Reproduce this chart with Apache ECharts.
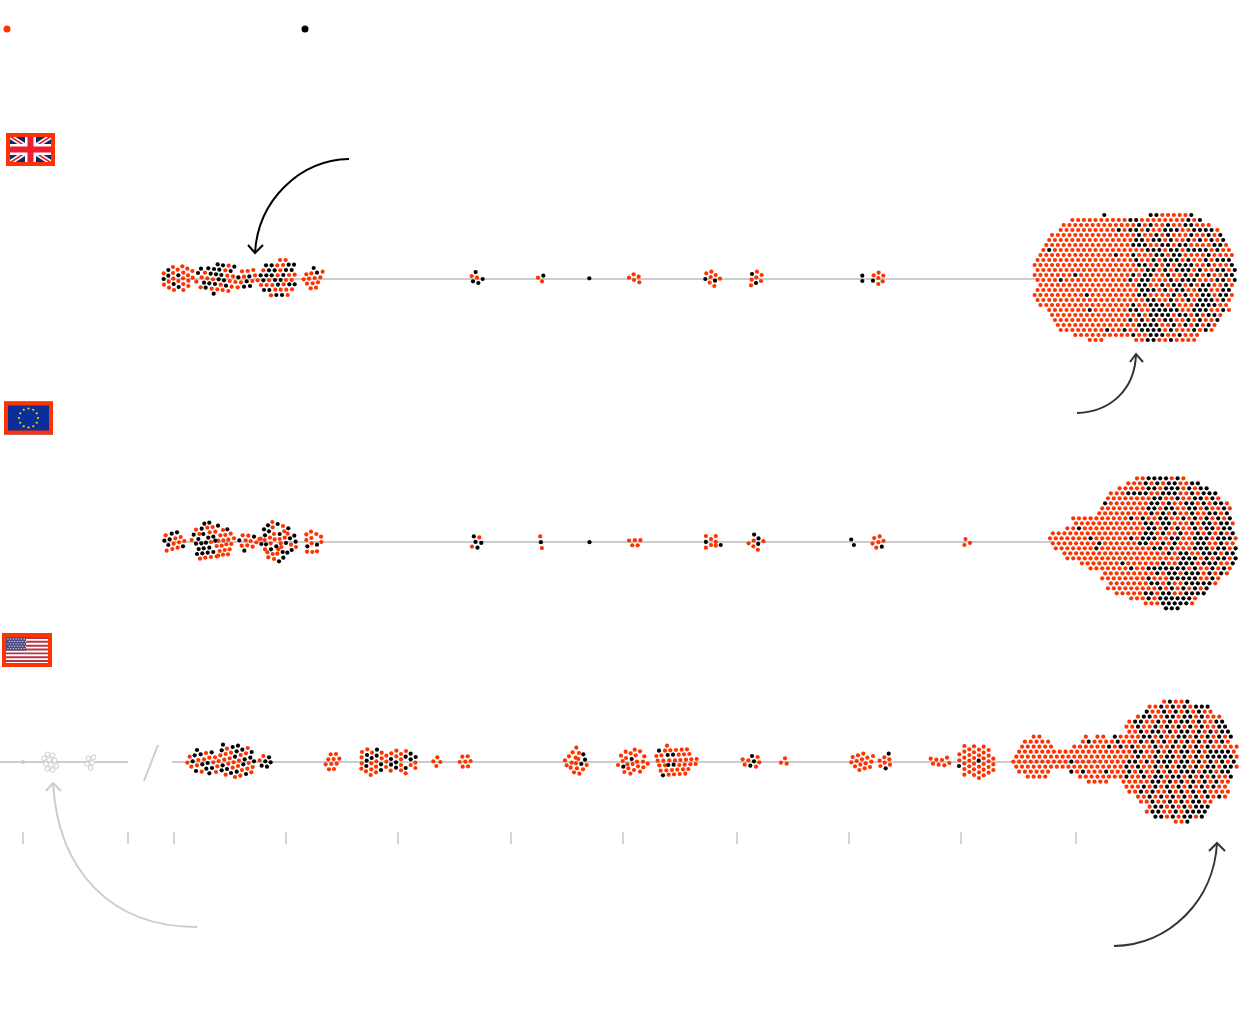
<!DOCTYPE html>
<html><head><meta charset="utf-8">
<style>html,body{margin:0;padding:0;background:#fff}#c{width:1240px;height:1032px}</style>
<script src="https://cdn.jsdelivr.net/npm/echarts@6/dist/echarts.min.js"></script>
</head><body><div id="c"></div>
<script>
// Values. at() places a list read in 3x crops of the reference.
const at=(ox,oy,l)=>l.map(p=>[ox+p[0]/3,oy+p[1]/3]);

// ---- United Kingdom, small clusters
const ukRedA=at(0,120,[[491,460],[519,441],[533,449],[547,439],[562,446],[519,459],[550,458],[577,453],[564,466],[520,476],[578,473],[549,475],[535,483],[506,485],[565,482],[492,494],[550,492],[565,498],[507,503],[522,510],[550,510],
[615,458],[686,437],[676,451],[605,472],[622,475],[639,478],[682,467],[699,469],[726,454],[743,453],[760,450],[732,470],[589,485],[689,483],[706,486],[723,487],[602,502],[662,494],[695,500],[713,502],[635,506],[652,508],[668,510],[685,513],[765,466],[757,483],
[840,420],[857,420],[832,436],[849,435],[790,451],[841,451],[833,466],[867,465],[884,464],[773,481],[807,481],[858,480],[875,480],[783,495],[800,495],[817,495],[851,493],[826,509],[842,509],[859,509],[876,508],[813,526],[863,525],
[934,460],[968,455],[919,463],[927,476],[911,478],[944,474],[961,472],[921,491],[938,490],[954,487],[932,505],[948,503]]);
const ukBlackA=at(0,120,[[505,450],[505,467],[491,477],[535,466],[521,492],[536,501],
[603,446],[625,445],[642,447],[653,433],[669,436],[658,449],[703,440],[594,459],[632,461],[648,463],[664,465],[692,453],[612,488],[656,478],[672,481],[715,472],[628,490],[645,492],[740,484],[617,503],[678,497],[732,500],[750,498],[748,469],[641,521],
[798,436],[815,436],[866,434],[882,434],[807,451],[824,451],[858,450],[875,450],[782,466],[799,466],[815,466],[850,465],[790,481],[842,480],[825,480],[884,493],[868,493],[834,494],[792,510],[808,510],[846,525],[829,525],
[941,444],[951,458]]);
const ukRedB=at(450,262,[[65,42],[81,47],[264,47],[276,58],[537,47],[551,37],[566,44],[552,54],[568,61],[769,34],[784,29],[797,39],[782,45],[810,50],[779,62],[793,72],[921,29],[935,39],[919,46],[905,53],[933,57],[903,70],[1271,40],[1286,32],[1285,48],[1300,41],[1298,58],[1285,66]]);
const ukBlackB=at(450,262,[[77,30],[98,51],[69,58],[85,63],[280,41],[418,49],[766,51],[795,56],[906,36],[918,63],[1237,41],[1237,57],[1269,56]]);
// run-length rows of the big UK swarm: r red, b black, . empty
const ukSwarm=["12.b7.2b5rb","6.10r2b8rbrb","5.13rbrb2rb2r2b3r","4.10rbr2brb2r3b2r4br","3.15rb2rbrb3rb2rbrb","2.15r2br2brb2rbrbrbrb","2.15r3b2r2br2b4r2br","1.rb16r3br2br4brb2r","1.13rb2rb3r2br2b4rb4r","17rb2rbr3brb2rbr3b","18r2brbrbr3b2rb3rb","19r2brbr3brb2r2brb","7rb9rbr2b2rb2rbrbrb2r2b","4rb11rbr2b3rbr3b3r2brb","1.17r2b2rbr2brbr2b2rbr","18r3brbr2b2r2b2r2b","9rb8r2b4rbrb2r2br2br","19r2b2rb2rbr3brbr","1.16rb2r3brb3r4b2r","2.7rb6r2b2r5b2r3b2rbr","3.15rbr4br2brbr2br","3.13rbrbrbr2b2rbrb2rb","4.14r4b2rbrbrbrbr","4.8rb2rb2r4brb3rbrbr","7.10rb2r3b2rb3r","9.3r5.2r2b2rb4r"];

// ---- European Union
const euRedA=at(150,510,[[47,76],[92,81],[76,85],[71,101],[87,97],[103,93],[83,113],[67,117],[50,122],
[138,59],[172,53],[188,51],[219,60],[148,72],[179,67],[196,65],[242,71],[211,76],[226,75],[252,85],[205,92],[220,91],[235,89],[125,90],[183,96],[200,108],[215,107],[229,103],[244,102],[209,123],[224,120],[239,118],[205,137],[219,134],[234,133],[150,146],[166,143],[183,141],[200,139],
[278,76],[295,77],[287,91],[302,93],[319,97],[332,86],[292,106],[308,110],[275,107],
[367,36],[399,48],[368,52],[413,71],[372,72],[403,64],[328,87],[360,83],[374,88],[389,87],[345,118],[362,100],[392,100],[423,104],[394,111],[438,111],[352,127],[368,132],[382,131],[385,118],[355,142],[372,147],[344,90],[404,83],
[469,73],[483,65],[499,72],[513,80],[484,84],[469,90],[485,100],[514,96],[487,126],[471,125],[501,124]]);
const euBlackA=at(150,510,[[65,71],[81,67],[43,92],[59,88],[55,105],[99,109],
[163,41],[178,38],[155,56],[204,47],[131,74],[160,72],[175,83],[190,80],[145,87],[138,101],[154,100],[168,98],[196,92],[146,117],[161,115],[178,113],[141,132],[157,130],[173,128],[190,126],[232,58],
[268,91],[312,80],[283,122],
[354,46],[342,58],[383,42],[357,64],[415,55],[389,72],[433,77],[345,76],[420,85],[348,103],[437,95],[408,99],[334,102],[379,109],[425,120],[412,128],[398,126],[400,143],[387,154],[363,118],
[472,109],[501,104]]);
const euRedB=[[479.3,537.4],[472,546.7],[540.2,536.4],[541.9,548.1],[629.1,540.5],[634.9,540.2],[640.4,540.2],[632.2,545.3],[637.7,545.3],[705.9,536],[711,539.1],[715.8,536],[715.8,541.9],[711,545],[715.8,545.7],[705.9,547.7],[753.7,540.5],[748.6,543.3],[763.4,541.2],[753.4,546.3],[757.9,549.8],[874.2,538.1],[879.7,536.4],[878.4,542.2],[883.5,540.8],[872.5,543.6],[876.3,547.7],[965.5,539.1],[970,542.9],[964.4,545]];
const euBlackB=[[473.8,536.4],[475.5,541.9],[481.3,542.9],[477.5,547.7],[540.9,542.2],[589.5,542.2],[705.9,541.9],[720.7,545],[754.1,534.6],[758.5,538.4],[758.2,543.9],[851.2,539.5],[853.9,545],[881.8,546.7]];
const euSwarm=["15.2r4brbr","13.3rbrbrbb2r2b","12.5r2br3brbr2b","10.3r4b2r3b2rbr3b","10.8r2b2rb2r2brbr","9.b7r2brb2r2brbr2br","9.8r2br2b2r2brb2rbr","8.9rbrbrb2rb2r2brb","4.10rbrb2r2b2rbrbrbrbrb","4.12r2br2b3rbr2br2br","3.2rb11r2brbrb2rbr2br2b","16r2brb2rb2rbrbrbrb","7rb6rbr3b2r2b2r3br3br","8rb6r2b2rbrb3r2b2rb2r","1.7rb9r2brb3r3br2brb","2.18rbr2b2r3br2b","3.20r3brbr2brb","5.7rb6rb2r3br3b2rb","7.7rb2r7brb2rbrbr","9.9rbr2br3brbrbr","9.8rb3r5b2rbr","10.7r2brb2r5br","10.9rbrbrbrbrb","11.5r2br2b2r4b","14.3rbr6br","16.3r5br","20.3b"];

// ---- United States
const usRedA=at(0,625,[[569,395],[618,384],[681,371],[743,369],[661,391],[677,387],[693,383],[722,390],[738,385],[628,398],[645,397],[612,403],[595,405],[673,404],[689,400],[790,393],[779,406],[656,408],[640,412],[717,407],[701,412],[685,416],[746,414],[562,413],[574,425],[591,421],[652,424],[714,423],[698,428],[758,426],[742,431],[726,435],[605,440],[648,441],[677,449],[705,456],[721,452],[754,442]]);
const usBlackA=at(0,625,[[591,375],[669,359],[698,366],[714,362],[665,376],[727,374],[710,379],[584,391],[602,388],[635,382],[755,381],[705,395],[751,398],[734,403],[578,409],[762,409],[807,397],[796,409],[812,412],[785,422],[801,425],[623,414],[607,418],[730,418],[668,421],[619,431],[636,429],[681,432],[665,436],[588,438],[628,445],[693,444],[710,440],[738,447]]);
const usRedB=at(300,730,[[92,73],[108,72],[118,86],[85,88],[101,87],[77,103],[94,102],[110,101],[87,118],[102,117],
[202,58],[186,66],[216,68],[245,68],[185,82],[245,85],[259,77],[274,70],[289,62],[303,72],[318,63],[303,88],[229,94],[214,100],[185,100],[259,95],[228,110],[214,118],[184,116],[198,124],[212,135],[228,127],[258,111],[272,122],[303,105],[303,121],[317,130],[332,105],[346,98],[346,114],[289,79],
[412,82],[400,94],[421,96],[409,108],[487,80],[503,79],[479,96],[496,95],[512,93],[488,110],[504,109],
[829,53],[818,67],[837,69],[807,79],[827,83],[795,91],[815,98],[835,87],[800,106],[828,100],[812,113],[831,115],[849,118],[822,127],[838,131],[860,105],
[1004,59],[977,65],[1020,64],[963,77],[992,70],[1007,76],[1033,79],[978,84],[1043,101],[954,105],[1029,95],[968,93],[1011,95],[982,103],[1014,109],[1030,112],[985,115],[1002,120],[1020,125],[973,126],[991,131],[998,102],
[1101,47],[1095,62],[1111,61],[1128,60],[1145,59],[1161,58],[1084,76],[1069,78],[1136,74],[1152,73],[1168,72],[1073,92],[1090,92],[1108,91],[1125,91],[1141,90],[1158,89],[1174,88],[1190,87],[1078,106],[1095,106],[1138,105],[1154,104],[1171,103],[1187,102],[1082,122],[1099,121],[1116,120],[1132,119],[1149,118],[1165,117],[1106,134],[1122,133],[1139,132],[1156,131]]);
const usBlackB=at(300,730,[[231,59],[201,75],[230,77],[215,84],[200,92],[199,108],[243,103],[243,120],[273,87],[273,104],[288,97],[288,113],[317,80],[332,71],[347,81],[332,88],[317,114],
[850,73],[855,89],[844,102],[995,87],[970,110],[1077,62],[1103,75],[1119,74],[1105,105],[1121,104],[1089,136]]);
const usRedC=at(700,730,[[128,88],[145,91],[173,81],[178,97],[134,104],[168,110],[255,85],[243,98],[260,101],
[490,71],[474,76],[458,81],[519,78],[502,83],[486,88],[470,93],[454,97],[514,95],[497,100],[481,104],[465,109],[510,111],[494,115],[478,120],
[553,82],[539,92],[568,88],[554,98],[570,104],[541,108],
[692,86],[709,89],[726,90],[741,83],[699,101],[716,104],[733,106],[748,99],
[778,73],[778,91],[793,48],[793,65],[793,83],[793,100],[793,117],[793,134],[808,58],[808,75],[808,92],[808,109],[808,126],[822,49],[822,67],[822,84],[822,101],[822,118],[822,135],[837,59],[837,76],[837,110],[837,127],[837,144],[851,50],[851,68],[851,85],[851,102],[851,119],[851,136],[866,60],[866,77],[866,94],[866,111],[866,128],[880,86],[880,103],[880,120]]);
const usBlackC=at(700,730,[[156,78],[162,94],[151,107],[566,71],[557,115],[777,108],[836,92]]);
const usSwarm=["26.rb2rb","23.2rbrbrbr3b","23.b2rbrbrbrb2r","21.r2b2r2br2brb3r","20.r2b2rbrbr2brb2r2b","19.2rb2rbrbrbrbrb2r2b","20.2rbr2brbr2brbrbr2b","3.2r7.r.2r.b4r2brb2r2brbrbrbrb","2.5r5.rb4rb3rbrbrbrbrbrbrbrbr","1.6r3.6rbrbrb3rb2rbrbrbrb5r","1.20r2b2rbrbr2brbr4br","21rb2rbr2brbrbr5br","10rb9r2brbr3br2brbrbrbrb","19rbrb2rbrbr2brbr2br2br","1.6r3.brb3rb3rbrb2rbrbr3br2br2b","2.4r5.8rb2rbr2br2brbrbrb2rb","13.4r2.5r2brbrbrbrbrb2r","19.3rbrbrbrbrbrbrbrr","20.2rbrb2rbrbrbrb4r","21.2rbrbrbrbrbrbrbr","22.2rb2rbrbr2b2r","23.r2brbrbr3b","23.r2b2rbr4b","24.2brbr2brb","28.2rb"];
const usFadedA=at(0,625,[[142,388],[158,391],[132,400],[148,404],[164,406],[138,417],[153,419],[169,423],[142,432],[158,435],[281,397],[265,400],[276,413],[261,417],[272,429]]);
const usFadedDot=[[23,762]];

// ---- axis furniture
const tickPositions=[23,128,174,286,398,511,623,737,849,961,1076];
const ukLine=[[165,279],[1040,279]];
const euLine=[[165,542],[1052,542]];
const usLineA=[[0,762],[128,762]];
const usLineB=[[172,762],[1100,762]];
const breakMark=[[158,745],[144,781]];
const legendRed=[[7,29]];
const legendBlack=[[305,29]];

// Expand a run-length swarm on its hexagonal rows (crop units, 3 per pixel)
function swarm(rows,ox,oy,x0,y0,out){
  rows.forEach((s,k)=>{
    const line=s.replace(/(\d+)([.rb])/g,(m,n,c)=>c.repeat(+n));
    [...line].forEach((c,i)=>{
      if(c==='.')return;
      out[c].push([ox+(x0+17.4*i+(k%2?8.7:0))/3, oy+(y0+15*k)/3]);
    });
  });
  return out;
}
const big={r:[],b:[]};
swarm(ukSwarm,1020,205,44,30,big);
swarm(euSwarm,1040,470,30,25,big);
swarm(usSwarm,1000,695,40,20,big);

const redDots=[].concat(ukRedA,ukRedB,euRedA,euRedB,usRedA,usRedB,usRedC,big.r);
const blackDots=[].concat(ukBlackA,ukBlackB,euBlackA,euBlackB,usBlackA,usBlackB,usBlackC,big.b);

const GRAY='#cccccc',RED='#ff3300',DARK='#333333',DOT=4.2;
const rule=(d)=>({type:'line',data:d,symbol:'none',silent:true,z:1,lineStyle:{color:GRAY,width:2,opacity:1},animation:false});

// Annotation arrows and flags
function arrow(p,col,w){
  return [{type:'bezierCurve',shape:{x1:p[0],y1:p[1],cpx1:p[2],cpy1:p[3],cpx2:p[4],cpy2:p[5],x2:p[6],y2:p[7]},style:{stroke:col,fill:null,lineWidth:w}},
  {type:'polyline',shape:{points:[[p[8],p[9]],[p[6],p[7]],[p[10],p[11]]]},style:{stroke:col,fill:null,lineWidth:w}}];
}
const arrows=[].concat(
 arrow([349,159,300,160,258,200,255,253,248,245,263,245],'#000',2),
 arrow([1077,413,1110,412,1135,390,1136,354,1130,362,1143,362],DARK,2),
 arrow([197,927,110,927,58,870,53,783,46,791,61,791],GRAY,2),
 arrow([1114,946,1170,945,1214,900,1217,843,1209,851,1225,851],DARK,2)
);
function rect(x,y,w,h,f){return {type:'rect',shape:{x,y,width:w,height:h},style:{fill:f}};}
function seg(a,b,c,d,col,w){return {type:'line',shape:{x1:a,y1:b,x2:c,y2:d},style:{stroke:col,lineWidth:w}};}
function frame(x,y,w,h){return {type:'rect',shape:{x:x+2,y:y+2,width:w-4,height:h-4},style:{fill:null,stroke:RED,lineWidth:4}};}
const flags=[];
// UK
flags.push(rect(6,133,49,33,'#0a2a6e'),
 seg(8,135,53,164,'#fff',5),seg(53,135,8,164,'#fff',5),
 seg(8,135,53,164,'#e8202e',1.5),seg(53,135,8,164,'#e8202e',1.5),
 rect(25,133,11,33,'#fff'),rect(6,144,49,11,'#fff'),
 rect(27.5,133,6,33,'#ee1c2e'),rect(6,146.5,49,6,'#ee1c2e'),frame(6,133,49,33));
// EU
flags.push(rect(4,401.5,49,33,'#0b2f9a'),frame(4,401.5,49,33));
for(let i=0;i<12;i++){const a=i*Math.PI/6;
 flags.push({type:'circle',shape:{cx:28.5+9.5*Math.sin(a),cy:418+9.5*Math.cos(a),r:1.1},style:{fill:'#ffd400'}});}
// US
flags.push(rect(2,633,50,34,'#fff'));
for(let i=0;i<7;i++)flags.push(rect(6,637+i*3.85,42,1.95,'#b8344a'));
flags.push(rect(6,637,20,13.6,'#4a4a80'));
for(let r=0;r<5;r++)for(let c=0;c<7;c++)flags.push({type:'circle',shape:{cx:8+c*2.7+(r%2?1.3:0),cy:639+r*2.4,r:.65},style:{fill:'#e6e6e6'}});
flags.push(frame(2,633,50,34));

const chart=echarts.init(document.getElementById('c'),null,{renderer:'canvas'});
chart.setOption({
 animation:false,backgroundColor:'#fff',
 grid:{left:0,right:0,top:0,bottom:0,containLabel:false},
 xAxis:{type:'value',min:0,max:1240,show:false},
 yAxis:{type:'value',min:0,max:1032,inverse:true,show:false},
 tooltip:{show:false},
 graphic:{elements:flags.concat(arrows)},
 series:[
  rule(ukLine),rule(euLine),rule(usLineA),rule(usLineB),rule(breakMark),
  {type:'scatter',data:tickPositions.map(x=>[x,838]),symbol:'rect',symbolSize:[2,12],itemStyle:{color:'#d4d4d4',opacity:1},silent:true,z:2},
  {type:'scatter',data:usFadedA,symbolSize:4.6,itemStyle:{color:'#fff',borderColor:GRAY,borderWidth:1,opacity:1},silent:true,z:2},
  {type:'scatter',data:usFadedDot,symbolSize:4,itemStyle:{color:GRAY,opacity:1},silent:true,z:2},
  {type:'scatter',data:redDots,symbolSize:DOT,itemStyle:{color:RED,opacity:1},silent:true,z:3},
  {type:'scatter',data:blackDots,symbolSize:DOT,itemStyle:{color:'#000',opacity:1},silent:true,z:3},
  {type:'scatter',data:legendRed,symbolSize:7,itemStyle:{color:RED,opacity:1},silent:true,z:3},
  {type:'scatter',data:legendBlack,symbolSize:7,itemStyle:{color:'#000',opacity:1},silent:true,z:3}
 ]
});
</script></body></html>
